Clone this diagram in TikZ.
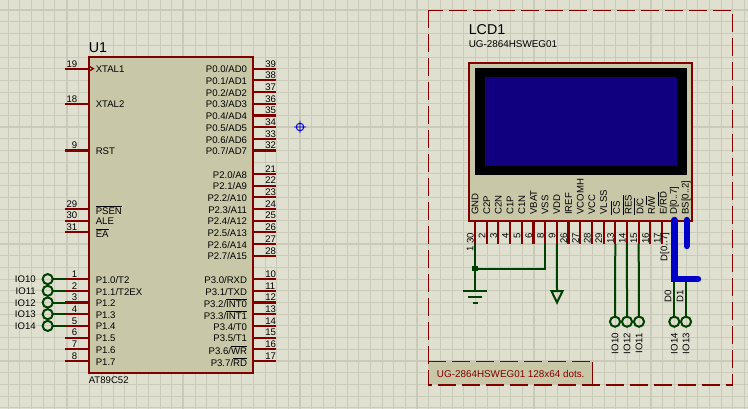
\documentclass[tikz,border=0pt]{standalone}
\usepackage{fontspec}
\setmainfont{Liberation Sans}
\definecolor{sheet}{RGB}{224,224,208}
\definecolor{gridc}{RGB}{202,202,186}
\definecolor{chipc}{RGB}{200,200,168}
\definecolor{pinc}{RGB}{128,0,0}
\definecolor{wirec}{RGB}{0,64,0}
\definecolor{busc}{RGB}{0,0,200}
\definecolor{lcdc}{RGB}{16,0,128}
\newcommand{\ovl}[1]{$\overline{\mbox{#1}}$}
\tikzset{
    chipbox/.style={draw=pinc,fill=chipc,line width=1.7pt,inner sep=0pt,outer sep=0pt},
    pinline/.style={draw=pinc,line width=1.6pt},
    wire/.style={draw=wirec,line width=1.5pt},
    busline/.style={draw=busc,line width=4.8pt,line cap=round},
    term/.style={circle,draw=wirec,line width=1.5pt,minimum size=7.6pt,inner sep=0pt,outer sep=0pt},
    pintext/.style={font=\fontsize{7.2}{8}\selectfont,inner sep=0pt},
    bigtext/.style={font=\fontsize{10.7}{12}\selectfont,inner sep=0pt}
}
\begin{document}
\begin{tikzpicture}[x=0.75pt,y=-0.75pt]
    \useasboundingbox (0,0) rectangle (748,409);
    \fill[sheet] (0,0) rectangle (748,409);
    % grid
    \foreach \k [evaluate=\k as \xx using 66.5+\k*11.69] in {-5,...,58}{
        \draw[gridc,line width=0.75pt] (\xx,0)--(\xx,409);
        };
    \foreach \k [evaluate=\k as \yy using 10.3+\k*11.69] in {0,...,34}{
        \draw[gridc,line width=0.75pt] (0,\yy)--(748,\yy);
        };
    \foreach \xx in {66.5,183.3,300,416.8,533.7,650.6}{
        \draw[gridc,line width=1.5pt] (\xx,0)--(\xx,409);
        };
    \foreach \yy in {10.3,127.1,243.9,360.7}{
        \draw[gridc,line width=1.5pt] (0,\yy)--(748,\yy);
        };
    % origin mark
    \draw[busc,line width=0.7pt] (300,127) circle (3.8) (294,127)--(306,127) (300,121)--(300,133);

    % U1
    \node[chipbox,minimum width=122.8pt,minimum height=237pt] (u1) at (170.85,214.7) {};
    \node[bigtext,anchor=west] (u1name) at (88.5,48) {U1};
    \node[pintext,anchor=west] (u1type) at (88.5,380.5) {AT89C52};
    \foreach \k/\n/\t [evaluate=\k as \y using 68.7+\k*11.69] in {
        0/19/XTAL1,3/18/XTAL2,7/9/RST,12/29/{\ovl{PSEN}},13/30/ALE,14/31/{\ovl{EA}},
        18/1/{P1.0/T2},19/2/{P1.1/T2EX},20/3/P1.2,21/4/P1.3,22/5/P1.4,23/6/P1.5,24/7/P1.6,25/8/P1.7}{
        \coordinate (up\n) at (65,\y);
        \draw[pinline] (up\n) -- (up\n -| u1.west);
        \node[pintext,anchor=east] (un\n) at (77.5,\y-5) {\n};
        \node[pintext,anchor=west] (ut\n) at (95.5,\y+0.8) {\t};
        };
    \foreach \k/\n/\t [evaluate=\k as \y using 68.7+\k*11.69] in {
        0/39/{P0.0/AD0},1/38/{P0.1/AD1},2/37/{P0.2/AD2},3/36/{P0.3/AD3},
        4/35/{P0.4/AD4},5/34/{P0.5/AD5},6/33/{P0.6/AD6},7/32/{P0.7/AD7},
        9/21/{P2.0/A8},10/22/{P2.1/A9},11/23/{P2.2/A10},12/24/{P2.3/A11},
        13/25/{P2.4/A12},14/26/{P2.5/A13},15/27/{P2.6/A14},16/28/{P2.7/A15},
        18/10/{P3.0/RXD},19/11/{P3.1/TXD},20/12/{P3.2/\ovl{INT0}},21/13/{P3.3/\ovl{INT1}},
        22/14/{P3.4/T0},23/15/{P3.5/T1},24/16/{P3.6/\ovl{WR}},25/17/{P3.7/\ovl{RD}}}{
        \coordinate (up\n) at (276,\y);
        \draw[pinline] (up\n) -- (up\n -| u1.east);
        \node[pintext,anchor=west] (un\n) at (265,\y-5) {\n};
        \node[pintext,anchor=east] (ut\n) at (247.3,\y+0.8) {\t};
        };
    \coordinate (clka) at (89,66.2);
    \coordinate (clkb) at (93.3,68.7);
    \coordinate (clkc) at (89,71.2);
    \draw[pinc,line width=1pt] (clka) -- (clkb) -- (clkc);

    % terminals on port 1
    \foreach \t/\n [evaluate=\n as \y using 68.7+(\n+17)*11.69] in {IO10/1,IO11/2,IO12/3,IO13/4,IO14/5}{
        \node[term] (tl\n) at (47.7,\y) {};
        \node[pintext,anchor=east] (tn\n) at (36,\y+0.5) {\t};
        \draw[wire] (tl\n) -- (up\n);
        };

    % LCD1
    \node[bigtext,anchor=west] (lcdname) at (468.5,30) {LCD1};
    \node[pintext,anchor=west,font=\fontsize{7.4}{8}\selectfont] (lcdtype) at (468.5,44.5) {UG-2864HSWEG01};
    \node[chipbox,minimum width=167.25pt,minimum height=118.5pt] (lcd1) at (580.5,141.7) {};
    \node[fill=black,inner sep=0pt,minimum width=158.8pt,minimum height=79.8pt] (frame) at (580.85,121.5) {};
    \node[fill=lcdc,inner sep=0pt,minimum width=144pt,minimum height=66.5pt] (screen) at (581,121.35) {};
    \foreach \k/\n/\t [evaluate=\k as \x using 475+\k*11.69] in {
        0/30/GND,1/2/C2P,2/3/C2N,3/4/C1P,4/5/C1N,5/6/VBAT,6/8/VSS,7/9/VDD,8/26/IREF,
        9/27/VCOMH,10/28/VCC,11/29/VLSS,12/13/{\ovl{CS}},13/14/{\ovl{RES}},
        14/15/{\ovl{D/C}},15/16/{R/\ovl{W}},16/17/{E/\ovl{RD}}}{
        \coordinate (lp\n) at (\x,244);
        \draw[pinline] (lp\n) -- (lp\n |- lcd1.south);
        \node[pintext,rotate=90,anchor=east] (ln\n) at (\x-4.7,232.5) {\n};
        \node[pintext,rotate=90,anchor=west] (lt\n) at (\x,215) {\t};
        };
    \node[pintext,rotate=90,anchor=west] (ltd) at (674.3,215) {D[0..7]};
    \node[pintext,rotate=90,anchor=west] (ltbs) at (686.2,215) {BS[0..2]};
    \node[pintext,rotate=90] (ln1) at (470,248.5) {1};

    % ground and power
    \node[fill=wirec,inner sep=0pt,minimum size=3.8pt] (jn) at (475,268.5) {};
    \coordinate (gnd) at (475,291);
    \coordinate (vdd) at (557,291);
    \draw[wire] (lp30) -- (jn) -- (gnd);
    \draw[wire] (lp8) |- (jn);
    \draw[wire] (gnd) ++(-12.3,0) -- ++(24.6,0);
    \draw[wire] (gnd) ++(-7,5.7) -- ++(14,0);
    \draw[wire] (gnd) ++(-2.5,11.7) -- ++(5,0);
    \draw[wire] (lp9) -- (vdd);
    \draw[wire,line join=miter] (vdd) ++(-5.6,0) -- ++(11.2,0) -- ++(-5.6,11.5) -- cycle;

    % bus
    \coordinate (dtop) at (674.3,220);
    \coordinate (dcor) at (674.3,279);
    \coordinate (dend) at (698,279);
    \coordinate (bstop) at (686.7,220);
    \coordinate (bsend) at (686.7,246);
    \coordinate (d0) at (674.3,279);
    \coordinate (d1) at (686,279);
    \node[pintext,rotate=90,anchor=west] (dlabel) at (665,261.5) {D[0..7]};
    \node[pintext,rotate=90,anchor=west] (d0label) at (668,303) {D0};
    \node[pintext,rotate=90,anchor=west] (d1label) at (680,303) {D1};

    % terminals on the LCD
    \foreach \x/\t/\n in {615/IO10/13,627/IO12/14,639/IO11/15}{
        \node[term] (tb\n) at (\x,321.7) {};
        \node[pintext,rotate=90,anchor=east] (tt\n) at (\x,333) {\t};
        \draw[wire] (lp\n) -- (tb\n);
        };
    \foreach \x/\t/\n in {674.3/IO14/0,686/IO13/1}{
        \node[term] (tc\n) at (\x,321.7) {};
        \node[pintext,rotate=90,anchor=east] (tu\n) at (\x,333) {\t};
        \draw[wire] (d\n) -- (tc\n);
        };
    \draw[busline] (dtop) -- (dcor) -- (dend);
    \draw[busline] (bstop) -- (bsend);

    % dashed border and tag
    \node[fill=chipc,inner sep=0pt,outer sep=0pt,minimum width=123pt,minimum height=17pt] (tag) at (510.4,373) {};
    \node[pintext,anchor=west,text=pinc,font=\fontsize{7.4}{8}\selectfont] (tagtext) at (436.7,373.5) {UG-2864HSWEG01 128x64 dots.};
    \draw[pinc,line width=0.8pt] (tag.north east) -- (tag.south east);
    \draw[pinc,line width=0.8pt,dash pattern=on 13.5pt off 4.5pt] (tag.north west) -- (tag.north east);
    \coordinate (boxa) at (428.3,10.3);
    \coordinate (boxb) at (732.7,385);
    \draw[pinc,line width=0.8pt,dash pattern=on 13.5pt off 4.5pt] (boxa) rectangle (boxb);
\end{tikzpicture}
\end{document}
